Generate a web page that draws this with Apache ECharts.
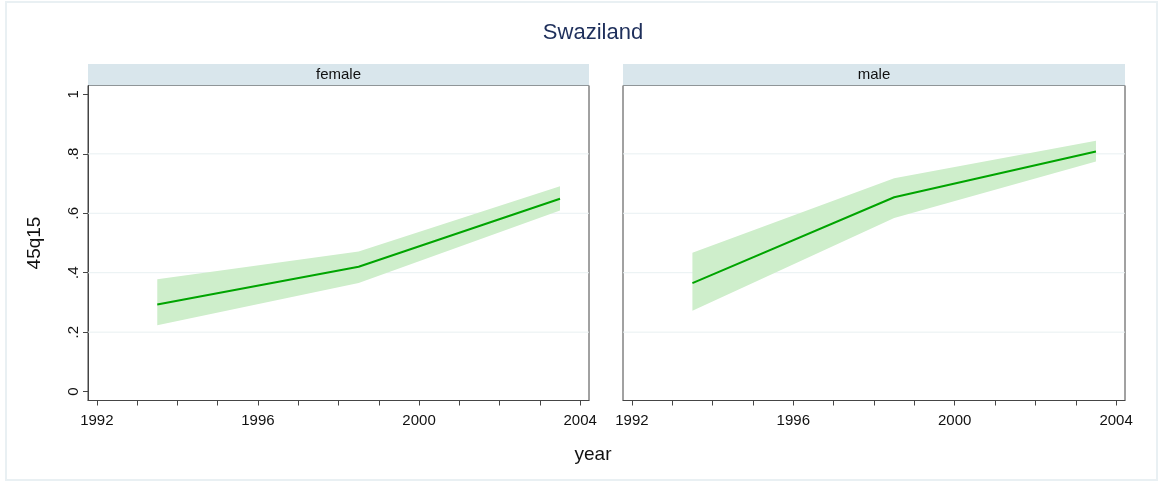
<!DOCTYPE html>
<html>
<head>
<meta charset="utf-8">
<script src="https://cdn.jsdelivr.net/npm/echarts@6/dist/echarts.min.js"></script>
<style>
html,body{margin:0;padding:0;background:#fff;}
#chart{width:1159px;height:482px;}
</style>
</head>
<body>
<div id="chart"></div>
<script>
const chartTitle = 'Swaziland';
const panels = ['female', 'male'];
const years = [1993.5, 1998.5, 2003.5];
const femaleMean = [0.293, 0.420, 0.649];
const femaleLower = [0.223, 0.365, 0.609];
const femaleUpper = [0.378, 0.471, 0.691];
const maleMean = [0.365, 0.654, 0.808];
const maleLower = [0.272, 0.584, 0.774];
const maleUpper = [0.467, 0.718, 0.844];
const xTickValues = [1992,1993,1994,1995,1996,1997,1998,1999,2000,2001,2002,2003,2004];
const xLabelValues = [1992, 1996, 2000, 2004];
const yLabelValues = [0, 0.2, 0.4, 0.6, 0.8, 1];
const yGridValues = [0.2, 0.4, 0.6, 0.8];
const xAxisTitle = 'year';
const yAxisTitle = '45q15';

const FONT = '"Liberation Sans", Arial, Helvetica, sans-serif';
const LINE_GREEN = '#00a400';
const BAND_GREEN = '#ceeecb';
const GRID_LINE = '#e8f0f2';
const FRAME = '#454545';

const grids = [
  {left: 88, top: 85.5, width: 501, height: 315},
  {left: 623, top: 85.5, width: 502, height: 315}
];

const chart = echarts.init(document.getElementById('chart'), null, {renderer: 'canvas'});

function yFmt(v) {
  if (Math.abs(v) < 1e-9) return '0';
  if (Math.abs(v - 1) < 1e-9) return '1';
  return String(Math.round(v * 10) / 10).replace(/^0/, '');
}

const xAxes = grids.map((g, i) => ({
  type: 'value', gridIndex: i, min: 1991.78, max: 2004.22,
  axisLine: {show: true, onZero: false, lineStyle: {color: FRAME, width: 1}},
  axisTick: {show: true, customValues: xTickValues, length: 5, lineStyle: {color: FRAME}},
  axisLabel: {show: true, customValues: xLabelValues, margin: 13, fontSize: 15, color: '#111', fontFamily: FONT,
    formatter: v => String(Math.round(v))},
  splitLine: {show: false}
}));

const yAxes = grids.map((g, i) => ({
  type: 'value', gridIndex: i, min: -0.03, max: 1.03,
  axisLine: {show: i === 0, onZero: false, lineStyle: {color: FRAME, width: 1}},
  axisTick: {show: i === 0, customValues: yLabelValues, length: 5, lineStyle: {color: FRAME}},
  axisLabel: {show: i === 0, customValues: yLabelValues, rotate: 90, margin: 7, fontSize: 15, color: '#111',
    fontFamily: FONT, formatter: yFmt},
  splitLine: {show: false},
  name: i === 0 ? yAxisTitle : '',
  nameLocation: 'middle', nameGap: 44,
  nameTextStyle: {fontSize: 19, color: '#111', fontFamily: FONT}
}));

function bandSeries(idx, lower, upper) {
  return {
    type: 'custom', xAxisIndex: idx, yAxisIndex: idx, z: 2, silent: true,
    data: years.map((x, i) => [x, lower[i], upper[i]]),
    encode: {x: 0, y: [1, 2]},
    clip: false,
    renderItem: function (params, api) {
      if (params.dataIndex !== 0) return null;
      const cs = params.coordSys;
      const children = yGridValues.map(v => {
        const p = api.coord([2000, v]);
        return {type: 'line', shape: {x1: cs.x, y1: p[1], x2: cs.x + cs.width, y2: p[1]},
          style: {stroke: GRID_LINE, lineWidth: 1}};
      });
      const pts = [];
      for (let i = 0; i < years.length; i++) pts.push(api.coord([years[i], upper[i]]));
      for (let i = years.length - 1; i >= 0; i--) pts.push(api.coord([years[i], lower[i]]));
      children.push({type: 'polygon', shape: {points: pts}, style: {fill: BAND_GREEN}});
      return {type: 'group', children: children};
    }
  };
}

function meanSeries(idx, mean) {
  return {
    type: 'line', xAxisIndex: idx, yAxisIndex: idx, z: 3, silent: true,
    data: years.map((x, i) => [x, mean[i]]),
    showSymbol: false, symbol: 'none',
    lineStyle: {color: LINE_GREEN, width: 2}
  };
}

const graphics = [
  {type: 'rect', shape: {x: 6, y: 2, width: 1151, height: 478}, style: {fill: 'none', stroke: '#e9f0f3', lineWidth: 2}, z: -10},
  {type: 'text', x: 593, y: 33, style: {text: chartTitle, font: '22px ' + FONT, fill: '#1e2f5b', textAlign: 'center', textVerticalAlign: 'middle'}},
  {type: 'text', x: 593, y: 455, style: {text: xAxisTitle, font: '19px ' + FONT, fill: '#111', textAlign: 'center', textVerticalAlign: 'middle'}}
];
grids.forEach((g, i) => {
  graphics.push({type: 'rect', shape: {x: g.left, y: 64, width: g.width, height: g.top - 64}, style: {fill: '#d9e6ec'}});
  graphics.push({type: 'text', x: g.left + g.width / 2, y: (64 + g.top) / 2, style: {text: panels[i], font: '15px ' + FONT, fill: '#111', textAlign: 'center', textVerticalAlign: 'middle'}});
});

chart.setOption({
  animation: false,
  backgroundColor: '#fff',
  textStyle: {fontFamily: FONT},
  grid: grids.map(g => Object.assign({show: true, borderColor: FRAME, borderWidth: 1, backgroundColor: '#fff'}, g)),
  xAxis: xAxes,
  yAxis: yAxes,
  graphic: graphics,
  series: [
    bandSeries(0, femaleLower, femaleUpper), meanSeries(0, femaleMean),
    bandSeries(1, maleLower, maleUpper), meanSeries(1, maleMean)
  ]
});
</script>
</body>
</html>
